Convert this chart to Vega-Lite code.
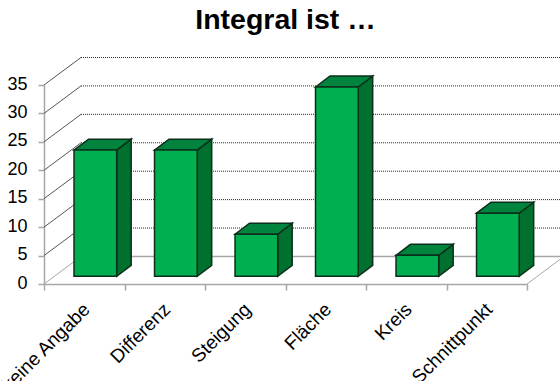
{
  "$schema": "https://vega.github.io/schema/vega-lite/v6.json",
  "autosize": "none",
  "padding": {"left": 44, "top": 85, "right": 33, "bottom": 97},
  "width": 483,
  "height": 199,
  "background": "white",
  "title": {
    "text": "Integral ist …",
    "anchor": "middle",
    "frame": "group",
    "font": "Liberation Sans",
    "fontSize": 28.5,
    "fontWeight": "bold",
    "color": "black",
    "baseline": "alphabetic",
    "offset": -1
  },
  "config": {"view": {"stroke": null}, "axisY": {"tickCount": 8, "labelOverlap": false}},
  "datasets": {
    "antworten": [
      {"antwort": "keine Angabe", "anteil": 22.2},
      {"antwort": "Differenz", "anteil": 22.2},
      {"antwort": "Steigung", "anteil": 7.4},
      {"antwort": "Fläche", "anteil": 33.3},
      {"antwort": "Kreis", "anteil": 3.7},
      {"antwort": "Schnittpunkt", "anteil": 11.1}
    ],
    "skala": [
      {"tick": 0}, {"tick": 5}, {"tick": 10}, {"tick": 15},
      {"tick": 20}, {"tick": 25}, {"tick": 30}, {"tick": 35}
    ]
  },
  "resolve": {"scale": {"x": "independent"}, "axis": {"x": "independent"}},
  "layer": [
    {
      "layer": [
        {
          "data": {"name": "skala"},
          "transform": [{"calculate": "datum.tick + 4.84", "as": "wandTick"}],
          "mark": {"type": "rule", "strokeWidth": 1},
          "encoding": {
            "x": {"datum": 0, "type": "quantitative", "scale": {"domain": [0, 6], "nice": false}, "axis": null},
            "x2": {"datum": 0.46},
            "y": {
              "field": "tick",
              "type": "quantitative",
              "scale": {"domain": [0, 35], "nice": false},
              "axis": {
                "title": null,
                "values": [0, 5, 10, 15, 20, 25, 30, 35],
                "grid": false,
                "domainColor": "#a6a6a6",
                "domainWidth": 1.5,
                "tickColor": "#a6a6a6",
                "tickWidth": 1.5,
                "tickSize": 6,
                "labelFont": "Liberation Sans",
                "labelFontSize": 18,
                "labelColor": "black",
                "labelPadding": 11,
                "labelOffset": -1,
                "labelBound": false,
                "labelFlush": false
              }
            },
            "y2": {"field": "wandTick"},
            "color": {"condition": {"test": "datum.tick === 0", "value": "#a6a6a6"}, "value": "#555555"}
          }
        },
        {
          "data": {"name": "skala"},
          "transform": [
            {"filter": "datum.tick > 0"},
            {"calculate": "datum.tick + 4.84", "as": "wandTick"}
          ],
          "mark": {"type": "rule", "strokeWidth": 1, "color": "#222222", "strokeDash": [1, 1]},
          "encoding": {
            "x": {"datum": 0.46, "type": "quantitative"},
            "x2": {"datum": 6.5},
            "y": {"field": "wandTick", "type": "quantitative"}
          }
        },
        {
          "data": {"name": "skala"},
          "transform": [
            {"filter": "datum.tick === 0"},
            {"calculate": "datum.tick + 4.84", "as": "wandTick"}
          ],
          "mark": {"type": "rule", "strokeWidth": 1.5, "color": "#a6a6a6"},
          "encoding": {
            "x": {"datum": 0.46, "type": "quantitative"},
            "x2": {"datum": 6.5},
            "y": {"field": "wandTick", "type": "quantitative"}
          }
        },
        {
          "data": {"name": "skala"},
          "transform": [
            {"filter": "datum.tick === 0"},
            {"calculate": "datum.tick + 4.84", "as": "wandTick"}
          ],
          "mark": {"type": "rule", "strokeWidth": 1, "color": "#a6a6a6"},
          "encoding": {
            "x": {"datum": 6, "type": "quantitative"},
            "x2": {"datum": 6.46},
            "y": {"field": "tick", "type": "quantitative"},
            "y2": {"field": "wandTick"}
          }
        },
        {
          "data": {"name": "antworten"},
          "transform": [
            {"window": [{"op": "row_number", "as": "nr"}]},
            {"calculate": "datum.nr - 1 + 0.373 + 0.53", "as": "rechts"},
            {"calculate": "[0, 1]", "as": "k"},
            {"flatten": ["k"]},
            {"calculate": "datum.rechts + datum.k * 0.18", "as": "sx"},
            {"calculate": "1.35 + datum.anteil + datum.k * 1.93", "as": "sOben"},
            {"calculate": "1.35 + datum.k * 1.93", "as": "sUnten"}
          ],
          "mark": {"type": "area", "color": "#00702f", "stroke": "#0a2f1a", "strokeWidth": 1.5},
          "encoding": {
            "x": {"field": "sx", "type": "quantitative"},
            "y": {"field": "sOben", "type": "quantitative"},
            "y2": {"field": "sUnten"},
            "detail": {"field": "nr"}
          }
        },
        {
          "data": {"name": "antworten"},
          "transform": [
            {"window": [{"op": "row_number", "as": "nr"}]},
            {"calculate": "datum.nr - 1 + 0.373", "as": "links"},
            {"calculate": "1.35 + datum.anteil", "as": "oben"},
            {"calculate": "[0, 1, 2, 3]", "as": "k"},
            {"flatten": ["k"]},
            {"calculate": "datum.links + [0, 0.18, 0.53, 0.71][datum.k]", "as": "dx"},
            {"calculate": "datum.oben + [0, 0, 0, 1.93][datum.k]", "as": "dUnten"},
            {"calculate": "datum.oben + [0, 1.93, 1.93, 1.93][datum.k]", "as": "dOben"}
          ],
          "mark": {"type": "area", "color": "#00843d", "stroke": "#0a2f1a", "strokeWidth": 1.5},
          "encoding": {
            "x": {"field": "dx", "type": "quantitative"},
            "y": {"field": "dOben", "type": "quantitative"},
            "y2": {"field": "dUnten"},
            "detail": {"field": "nr"}
          }
        },
        {
          "data": {"name": "antworten"},
          "transform": [
            {"window": [{"op": "row_number", "as": "nr"}]},
            {"calculate": "datum.nr - 1 + 0.373", "as": "links"},
            {"calculate": "datum.links + 0.53", "as": "rechts"},
            {"calculate": "1.35 + datum.anteil", "as": "oben"},
            {"calculate": "1.35", "as": "unten"}
          ],
          "mark": {"type": "rect", "color": "#00b050", "stroke": "#0a2f1a", "strokeWidth": 1.5},
          "encoding": {
            "x": {"field": "links", "type": "quantitative"},
            "x2": {"field": "rechts"},
            "y": {"field": "oben", "type": "quantitative"},
            "y2": {"field": "unten"}
          }
        }
      ]
    },
    {
      "data": {"name": "antworten"},
      "mark": {"type": "tick", "opacity": 0},
      "encoding": {
        "x": {
          "field": "antwort",
          "type": "nominal",
          "sort": null,
          "scale": {"type": "band", "paddingInner": 0, "paddingOuter": 0},
          "axis": {
            "orient": "bottom",
            "title": null,
            "tickBand": "extent",
            "domainColor": "#a6a6a6",
            "domainWidth": 1.5,
            "tickColor": "#a6a6a6",
            "tickWidth": 1.5,
            "tickSize": 6,
            "labelAngle": -45,
            "labelAlign": "right",
            "labelBaseline": "middle",
            "labelFont": "Liberation Sans",
            "labelFontSize": 19,
            "labelColor": "black",
            "labelPadding": 16,
            "labelOffset": 2,
            "labelOverlap": false,
            "labelBound": false,
            "labelFlush": false,
            "labelLimit": 0
          }
        }
      }
    }
  ]
}
